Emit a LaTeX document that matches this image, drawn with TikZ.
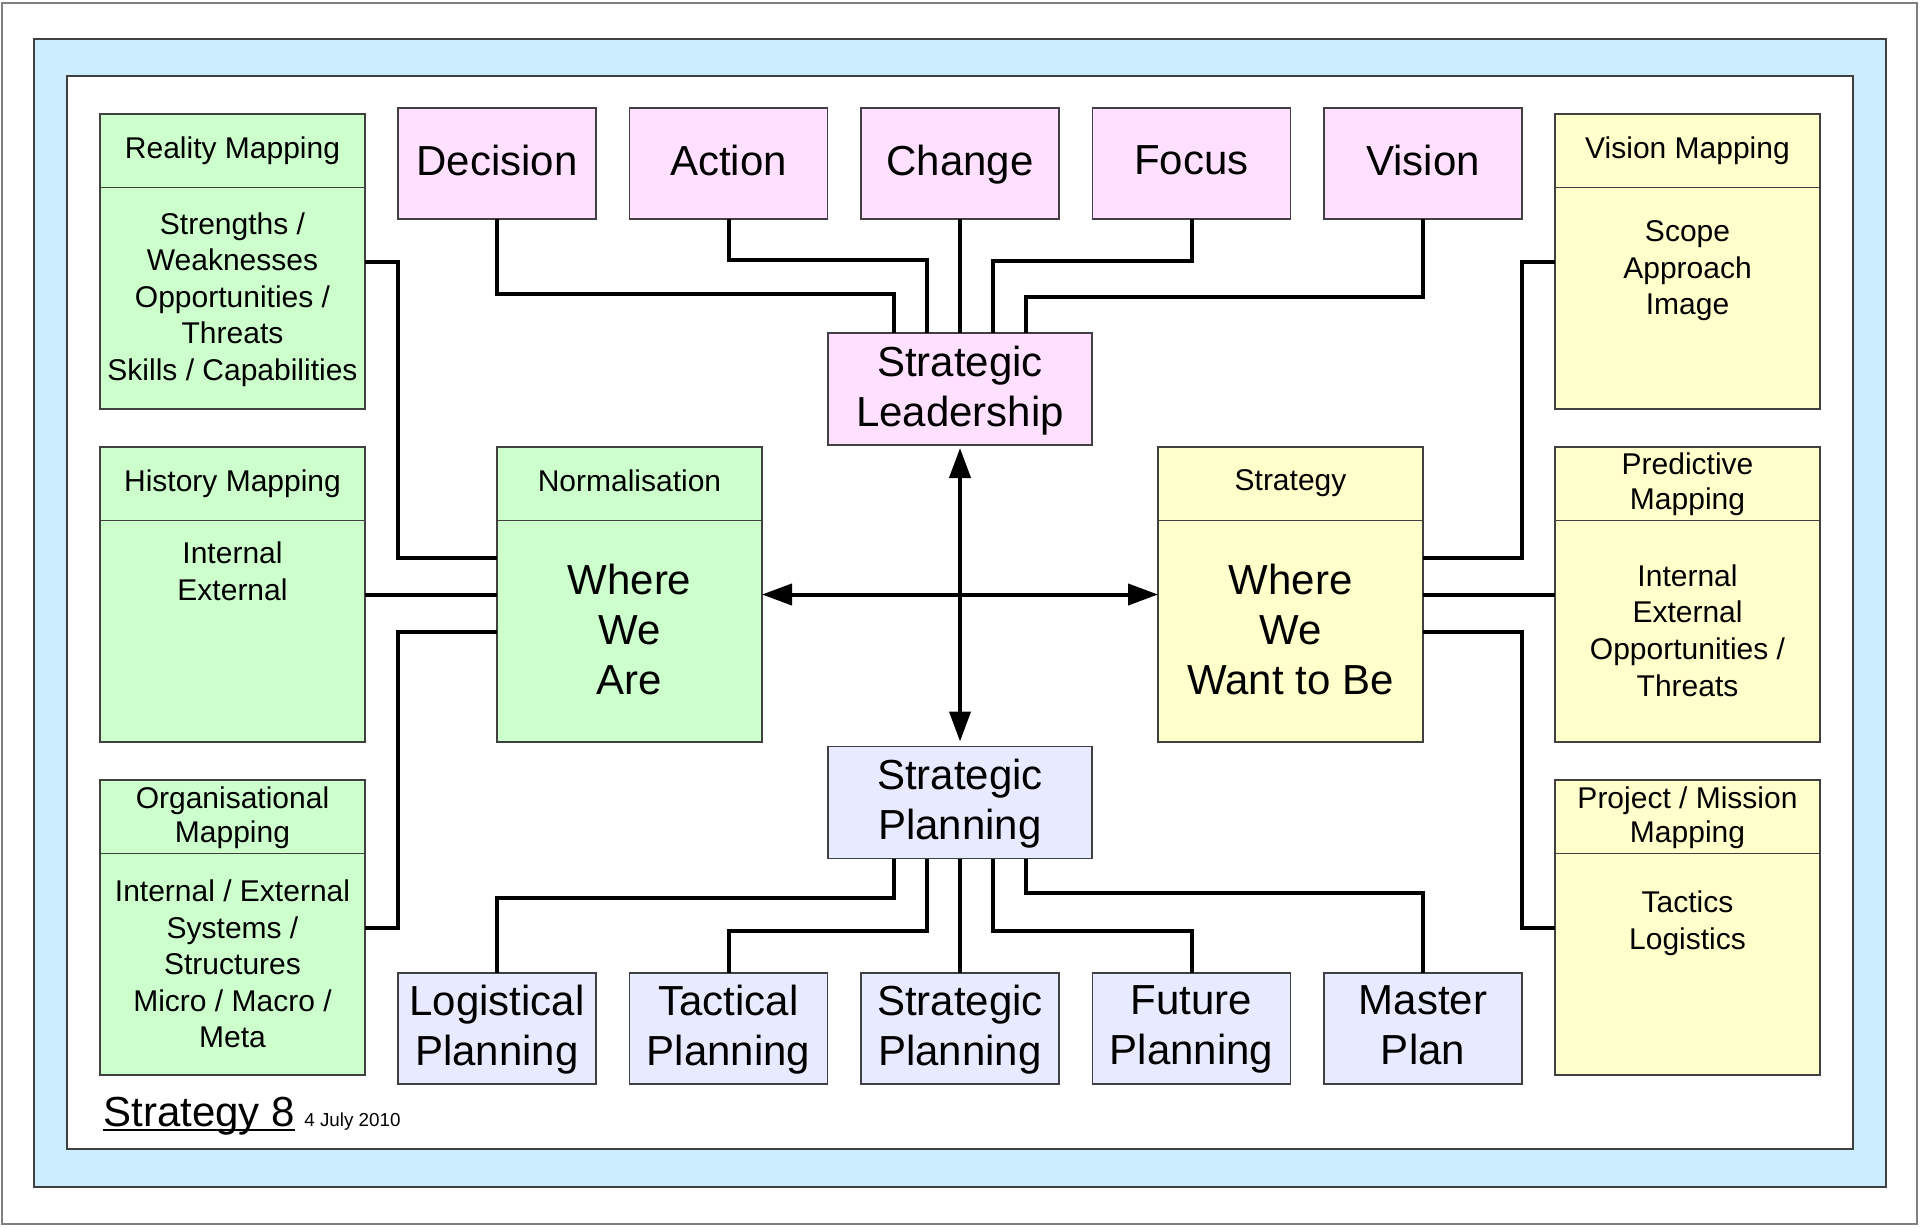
\documentclass[tikz,border=0pt]{standalone}
\usepackage{fontspec}
\setmainfont{Liberation Sans}
\usetikzlibrary{arrows.meta,calc}
\definecolor{gfill}{RGB}{204,255,204}
\definecolor{yfill}{RGB}{255,255,204}
\definecolor{pfill}{RGB}{255,225,255}
\definecolor{lfill}{RGB}{232,234,255}
\definecolor{bfill}{RGB}{204,236,255}
\definecolor{edge}{RGB}{64,64,64}
\begin{document}
\begin{tikzpicture}[x=0.5pt,y=-0.5pt,
  box/.style={draw=edge, line width=0.8pt, inner sep=0pt, outer sep=0pt},
  bigbox/.style={box, minimum width=132.5pt, minimum height=147.5pt},
  smallbox/.style={box, minimum width=99pt, minimum height=55.5pt, font=\fontsize{21}{25}\selectfont, align=center, text depth=3.2pt},
  midbox/.style={box, minimum width=132pt, minimum height=56pt, font=\fontsize{21}{25}\selectfont, align=center, text depth=3.2pt},
  hdr/.style={font=\fontsize{15}{17.3}\selectfont, align=center, inner sep=0pt, text depth=3.2pt},
  bodytxt/.style={font=\fontsize{15}{18.3}\selectfont, align=center, inner sep=0pt},
  bigtxt/.style={font=\fontsize{21}{25}\selectfont, align=center, inner sep=0pt},
  conn/.style={line width=2pt, black},
  arr/.style={line width=2pt, black, {Triangle[length=15pt,width=10.5pt]}-{Triangle[length=15pt,width=10.5pt]}},
  divider/.style={draw=edge, line width=0.8pt}
]
\useasboundingbox (0,0) rectangle (1920,1227);
\fill[white] (0,0) rectangle (1920,1227);
\draw[black!50, line width=1.2pt] (2,3) rectangle (1917,1224);
\draw[edge, line width=0.8pt, fill=bfill] (34,39) rectangle (1886,1187);
\draw[edge, line width=0.8pt, fill=white] (67,76) rectangle (1853,1149);

\node[smallbox, fill=pfill] (dec) at (497,163.5) {Decision};
\node[smallbox, fill=pfill] (act) at (728.5,163.5) {Action};
\node[smallbox, fill=pfill] (chg) at (960,163.5) {Change};
\node[smallbox, fill=pfill] (foc) at (1191.5,163.5) {Focus};
\node[smallbox, fill=pfill] (vis) at (1423,163.5) {Vision};

\node[midbox, fill=pfill] (sl) at (960,389) {Strategic\\Leadership};
\node[midbox, fill=lfill] (sp) at (960,802.5) {Strategic\\Planning};

\node[smallbox, fill=lfill] (lp) at (497,1028.5) {Logistical\\Planning};
\node[smallbox, fill=lfill] (tp) at (728.5,1028.5) {Tactical\\Planning};
\node[smallbox, fill=lfill] (stp) at (960,1028.5) {Strategic\\Planning};
\node[smallbox, fill=lfill] (fp) at (1191.5,1028.5) {Future\\Planning};
\node[smallbox, fill=lfill] (mp) at (1423,1028.5) {Master\\Plan};

\node[bigbox, fill=gfill] (rm) at (232.5,261.5) {};
\node[bigbox, fill=gfill] (hm) at (232.5,594.5) {};
\node[bigbox, fill=gfill] (om) at (232.5,927.5) {};
\node[bigbox, fill=gfill] (nm) at (629.5,594.5) {};
\node[bigbox, fill=yfill] (st) at (1290.5,594.5) {};
\node[bigbox, fill=yfill] (vm) at (1687.5,261.5) {};
\node[bigbox, fill=yfill] (pm) at (1687.5,594.5) {};
\node[bigbox, fill=yfill] (pj) at (1687.5,927.5) {};

\foreach \b in {rm,hm,om,nm,st,vm,pm,pj}
  \draw[divider] ($(\b.north west)+(0,73.5)$) -- ($(\b.north east)+(0,73.5)$);

% headers
\node[hdr] (rmh) at ($(rm.north)+(0,36.5)$) {Reality Mapping};
\node[hdr] (hmh) at ($(hm.north)+(0,36.5)$) {History Mapping};
\node[hdr] (omh) at ($(om.north)+(0,38)$) {Organisational\\Mapping};
\node[hdr] (nmh) at ($(nm.north)+(0,36.5)$) {Normalisation};
\node[hdr] (sth) at ($(st.north)+(0,36.5)$) {Strategy};
\node[hdr] (vmh) at ($(vm.north)+(0,36.5)$) {Vision Mapping};
\node[hdr] (pmh) at ($(pm.north)+(0,37.5)$) {Predictive\\Mapping};
\node[hdr] (pjh) at ($(pj.north)+(0,38)$) {Project / Mission\\Mapping};

% bodies
\node[bodytxt] (rmb) at ($(rm.north)+(0,185.5)$) {Strengths /\\Weaknesses\\Opportunities /\\Threats\\Skills / Capabilities};
\node[bodytxt] (hmb) at ($(hm.north)+(0,124)$) {Internal\\External};
\node[bodytxt] (omb) at ($(om.north)+(0,184)$) {Internal / External\\Systems /\\Structures\\Micro / Macro /\\Meta};
\node[bigtxt] (nmb) at ($(nm.north)+(0,182.4)$) {Where\\We\\Are};
\node[bigtxt] (stb) at ($(st.north)+(0,182.4)$) {Where\\We\\Want to Be};
\node[bodytxt] (vmb) at ($(vm.north)+(0,157)$) {Scope\\Approach\\Image};
\node[bodytxt] (pmb) at ($(pm.north)+(0,183.5)$) {Internal\\External\\Opportunities /\\Threats};
\node[bodytxt] (pjb) at ($(pj.north)+(0,143)$) {Tactics\\Logistics};

% connectors top
\draw[conn] (dec.south) -- ++(0,75) -| ($(sl.north west)!0.25!(sl.north east)$);
\draw[conn] (act.south) -- ++(0,41) -| ($(sl.north west)!0.375!(sl.north east)$);
\draw[conn] (chg.south) -- (sl.north);
\draw[conn] (foc.south) -- ++(0,42) -| ($(sl.north west)!0.625!(sl.north east)$);
\draw[conn] (vis.south) -- ++(0,78) -| ($(sl.north west)!0.75!(sl.north east)$);
% connectors bottom
\draw[conn] (lp.north) -- ++(0,-75) -| ($(sp.south west)!0.25!(sp.south east)$);
\draw[conn] (tp.north) -- ++(0,-42) -| ($(sp.south west)!0.375!(sp.south east)$);
\draw[conn] (stp.north) -- (sp.south);
\draw[conn] (fp.north) -- ++(0,-42) -| ($(sp.south west)!0.625!(sp.south east)$);
\draw[conn] (mp.north) -- ++(0,-80) -| ($(sp.south west)!0.75!(sp.south east)$);
% connectors left
\draw[conn] (rm.east) -- ++(33,0) |- ($(nm.west)+(0,-36.5)$);
\draw[conn] (hm.east) -- (nm.west);
\draw[conn] (om.east) -- ++(33,0) |- ($(nm.west)+(0,37)$);
% connectors right
\draw[conn] (vm.west) -- ++(-33,0) |- ($(st.east)+(0,-36.5)$);
\draw[conn] (pm.west) -- (st.east);
\draw[conn] (pj.west) -- ++(-33,0) |- ($(st.east)+(0,37)$);

% central arrows
\draw[arr, shorten <=1.5pt, shorten >=2.5pt] (sl.south) -- (sp.north);
\draw[arr] (nm.east) -- (st.west);

% title
\node[anchor=base west, inner sep=0pt, font=\fontsize{21}{25}\selectfont] (title) at (103,1126) {Strategy 8};
\draw[line width=1pt] ($(title.base west)+(0,4)$) -- ($(title.base east)+(0,4)$);
\node[anchor=base west, inner sep=0pt, font=\fontsize{9.4}{11}\selectfont] (date) at (304,1126) {4 July 2010};
\end{tikzpicture}
\end{document}
